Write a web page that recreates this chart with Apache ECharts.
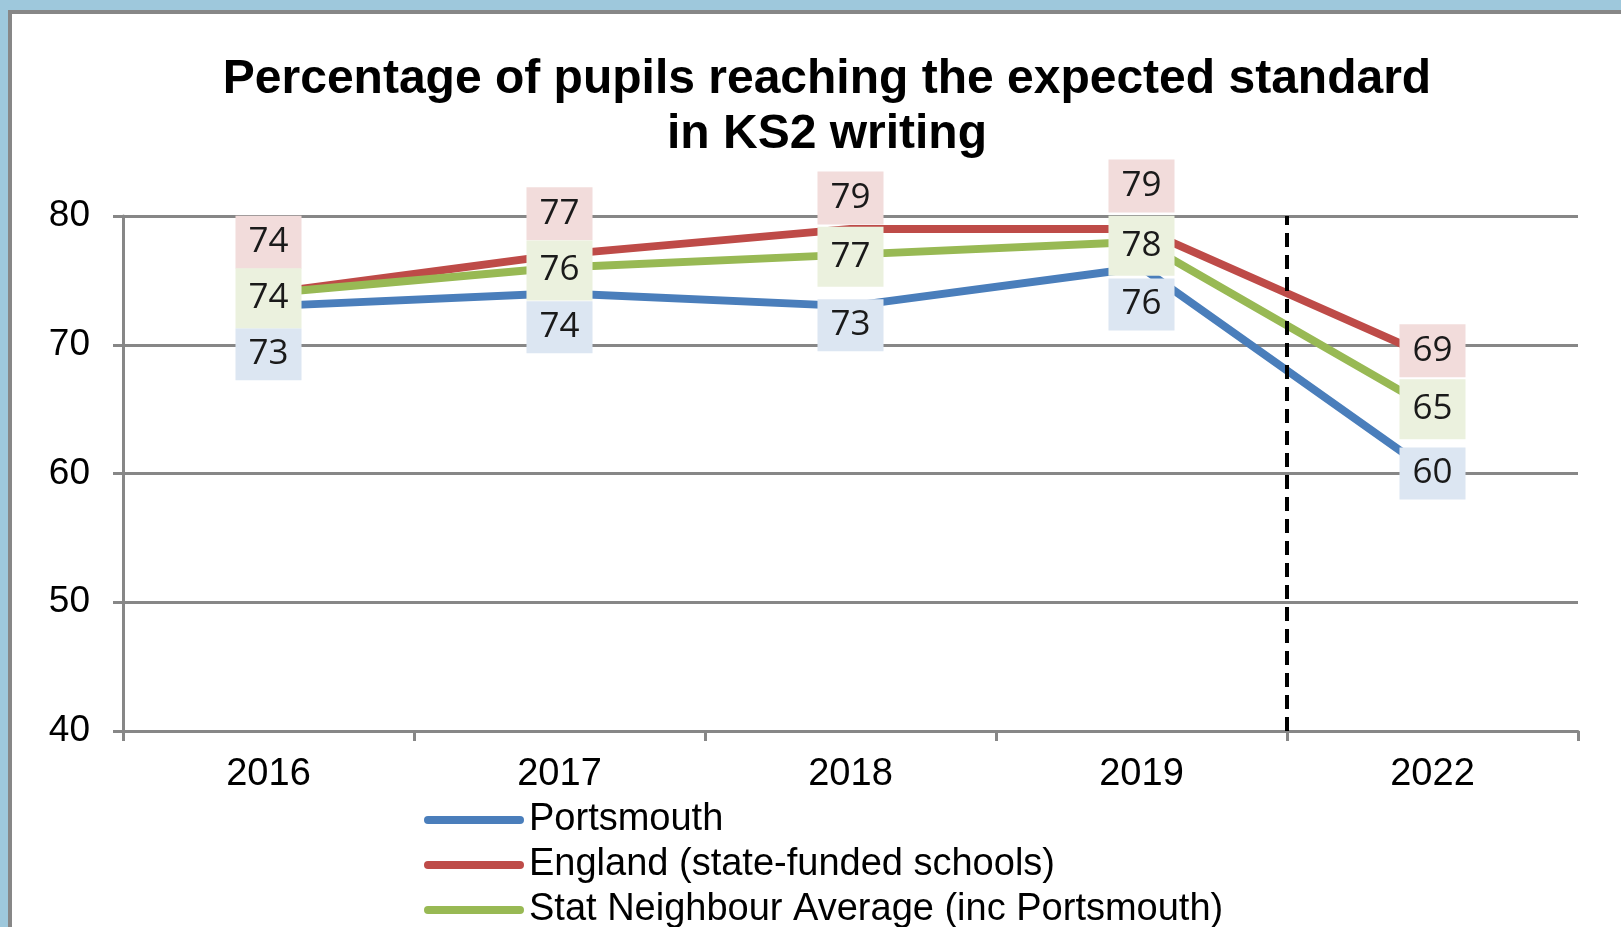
<!DOCTYPE html>
<html>
<head>
<meta charset="utf-8">
<script src="https://cdn.jsdelivr.net/npm/echarts@6/dist/echarts.min.js"></script>
<style>
  html, body { margin: 0; padding: 0; width: 1621px; height: 927px; overflow: hidden; background: #9ec8dc; }
  #panel { position: absolute; left: 8px; top: 10px; width: 1700px; height: 1000px; background: #fff;
           border-left: 4px solid #878787; border-top: 4px solid #878787; }
  #chart { position: absolute; left: 0; top: 0; width: 1621px; height: 927px; }
</style>
</head>
<body>
<div id="panel"></div>
<div id="chart"></div>
<script>
// 数据
var years = ['2016', '2017', '2018', '2019', '2022'];
var portsmouth = [73, 74, 73, 76, 60];
var england = [74, 77, 79, 79, 69];
var statNeighbour = [74, 76, 77, 78, 65];
var yTicks = [40, 50, 60, 70, 80];

// 标签的上下偏移（样式）
var engOffset = [-51, -41, -31, -43, -7];
var statOffset = [5, 3, 2, 4, 0];
var portOffset = [48, 34, 19, 37, 0];

var colors = ['#4a7ebb', '#be4b48', '#98b954'];
var labelBg = ['#dce6f2', '#f2dcdb', '#ebf1de'];

function points(values, offsets, bg, pad) {
    return values.map(function(v, i) {
        return {
            value: v,
            label: {
                offset: [0, offsets[i]],
                backgroundColor: bg,
                padding: pad
            }
        };
    });
}

function makeSeries(name, values, offsets, idx, pad) {
    return {
        name: name,
        type: 'line',
        symbol: 'circle',
        symbolSize: 2,
        showSymbol: true,
        z: 3,
        lineStyle: { width: 8, color: colors[idx], cap: 'round' },
        itemStyle: { color: colors[idx] },
        label: {
            show: true,
            position: 'inside',
            fontFamily: 'Open Sans',
            fontSize: 35,
            lineHeight: 37,
            color: '#1a1a1a'
        },
        data: points(values, offsets, labelBg[idx], pad)
    };
}

var myChart = echarts.init(document.getElementById('chart'));

var legendIcon = 'path://M4,0 L96,0 A4,4 0 0 1 96,8 L4,8 A4,4 0 0 1 4,0 Z';

var seriesList = [
    makeSeries('Portsmouth', portsmouth, portOffset, 0, [8, 13, 7, 13]),
    makeSeries('England (state-funded schools)', england, engOffset, 1, [8, 13, 8, 13]),
    makeSeries('Stat Neighbour Average (inc Portsmouth)', statNeighbour, statOffset, 2, [11, 13, 12, 13]),
    // 2019 与 2022 之间的虚线分隔（隐藏的数值轴上）
    {
        name: 'divider',
        type: 'line',
        xAxisIndex: 1,
        data: [],
        z: 4,
        markLine: {
            silent: true,
            symbol: 'none',
            label: { show: false },
            lineStyle: { color: '#000', width: 4, type: [14, 8] },
            data: [{ xAxis: 4 }]
        }
    }
];

option = {
    animation: false,
    textStyle: { fontFamily: 'Liberation Sans' },
    title: {
        text: 'Percentage of pupils reaching the expected standard\nin KS2 writing',
        left: 822,
        top: 47,
        textAlign: 'center',
        textStyle: {
            fontFamily: 'Liberation Sans',
            fontWeight: 'bold',
            fontSize: 48,
            lineHeight: 55,
            color: '#000'
        }
    },
    legend: {
        orient: 'vertical',
        left: 424,
        top: 801,
        height: 200,
        padding: 0,
        itemWidth: 100,
        itemHeight: 8,
        itemGap: 7,
        icon: legendIcon,
        textStyle: { fontFamily: 'Liberation Sans', fontSize: 38, lineHeight: 38, color: '#000' },
        data: ['Portsmouth', 'England (state-funded schools)', 'Stat Neighbour Average (inc Portsmouth)']
    },
    grid: {
        left: 123,
        right: 43,
        top: 216,
        bottom: 196
    },
    xAxis: [{
        type: 'category',
        data: years,
        boundaryGap: true,
        axisLine: { lineStyle: { color: '#878787', width: 3 } },
        axisTick: { show: true, length: 10, lineStyle: { color: '#878787', width: 3 } },
        axisLabel: { margin: 25, fontSize: 38, color: '#000', fontFamily: 'Liberation Sans' },
        splitLine: { show: false }
    }, {
        type: 'value',
        min: 0,
        max: years.length,
        show: false
    }],
    yAxis: {
        type: 'value',
        min: yTicks[0],
        max: yTicks[yTicks.length - 1],
        interval: 10,
        axisLine: { show: true, lineStyle: { color: '#878787', width: 3 } },
        axisTick: { show: true, length: 10, lineStyle: { color: '#878787', width: 3 } },
        axisLabel: { margin: 33, fontSize: 37, color: '#000', fontFamily: 'Liberation Sans' },
        splitLine: { lineStyle: { color: '#878787', width: 3 } }
    },
    series: seriesList
};

myChart.setOption(option);
</script>
</body>
</html>
